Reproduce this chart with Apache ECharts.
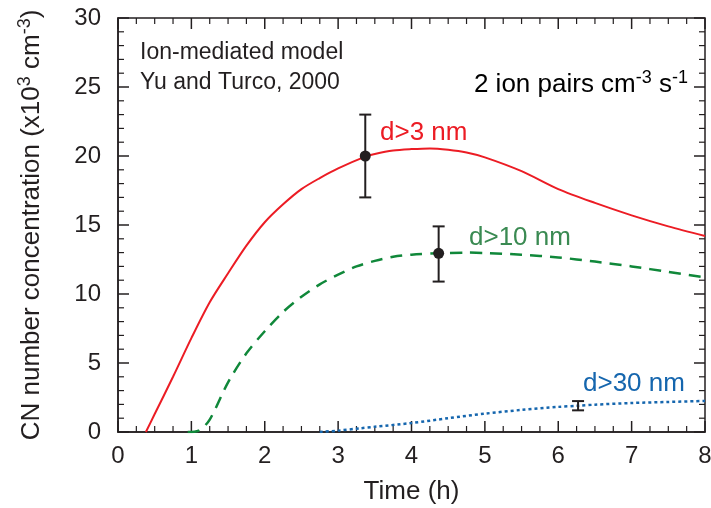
<!DOCTYPE html>
<html>
<head>
<meta charset="utf-8">
<script src="https://cdn.jsdelivr.net/npm/echarts@6/dist/echarts.min.js"></script>
<style>
    html, body { margin: 0; padding: 0; background: #fff; }
    #cn-chart { width: 711px; height: 508px; }
</style>
</head>
<body>
<div id="cn-chart"></div>
<script>
const FONT = '"Liberation Sans", Arial, Helvetica, sans-serif';
const INK = '#231f20';
const RED = '#ec1c24';
const GREEN = '#10883a';
const GREEN_TEXT = '#3a8a52';
const BLUE = '#1566ae';

// Model curves (time in h, concentration in 1e3 cm-3)
const d3Times = [0.38, 0.5, 0.75, 1, 1.25, 1.5, 1.75, 2, 2.25, 2.5, 2.75, 3, 3.37, 3.5, 3.75, 4, 4.25, 4.5, 4.75, 5, 5.5, 6, 6.5, 7, 7.5, 8];
const d3Values = [0, 1.3, 4.0, 6.8, 9.4, 11.5, 13.5, 15.2, 16.5, 17.6, 18.4, 19.1, 19.95, 20.15, 20.4, 20.5, 20.55, 20.45, 20.25, 19.9, 18.9, 17.6, 16.6, 15.7, 14.9, 14.2];

const d10Times = [0.95, 1.1, 1.25, 1.5, 1.75, 2, 2.25, 2.5, 2.75, 3, 3.25, 3.5, 3.75, 4, 4.37, 4.75, 5, 5.5, 6, 6.5, 7, 7.5, 8];
const d10Values = [0, 0.1, 0.9, 3.6, 5.7, 7.3, 8.7, 9.8, 10.7, 11.4, 12.0, 12.4, 12.7, 12.85, 12.95, 13.0, 12.97, 12.85, 12.65, 12.35, 12.0, 11.6, 11.2];

const d30Times = [2.75, 3, 3.3, 3.5, 4, 4.5, 5, 5.5, 6, 6.27, 6.5, 7, 7.5, 8];
const d30Values = [0, 0.1, 0.27, 0.38, 0.65, 1.0, 1.33, 1.6, 1.82, 1.9, 1.98, 2.1, 2.18, 2.25];

// Measurements with error bars: time, value, low, high
const obsTimes = [3.37, 4.37, 6.27];
const obsValues = [20.0, 12.95, 1.9];
const obsLow = [17.0, 10.9, 1.57];
const obsHigh = [23.0, 14.9, 2.24];
const obsDot = [true, true, false];

// min, max, major interval, minor subdivisions
const xTicks = [0, 8, 1, 4];
const yTicks = [0, 30, 5, 5];

function pairs(xs, ys) {
    return xs.map(function (x, i) { return [x, ys[i]]; });
}

// Tick positions for the frame: [dim, value, isMajor]
function tick_rows(dim, ticks) {
    let rows = [];
    let count = (ticks[1] - ticks[0]) / ticks[2] * ticks[3];
    for (let i = 0; i <= count; i++) {
        rows.push([dim, ticks[0] + i * ticks[2] / ticks[3], i % ticks[3] === 0 ? 1 : 0]);
    }
    return rows;
}

let cn_chart = echarts.init(document.getElementById('cn-chart'));

let name_rich = {
    t: {fontFamily: FONT, fontSize: 26, color: INK, lineHeight: 31},
    s: {fontFamily: FONT, fontSize: 18, color: INK, lineHeight: 23, verticalAlign: 'top'}
};

function note(text, x, y, color, size) {
    return {
        type: 'text',
        style: {
            text: text, x: x, y: y,
            font: size + 'px ' + FONT,
            fill: color,
            textVerticalAlign: 'middle'
        }
    };
}

let cn_options = {
    animation: false,
    backgroundColor: '#fff',
    grid: {
        left: 118, top: 18, right: 6, bottom: 76,
        show: true, borderColor: INK, borderWidth: 1.5,
        containLabel: false, outerBoundsMode: 'none'
    },
    xAxis: {
        type: 'value',
        min: xTicks[0],
        max: xTicks[1],
        interval: xTicks[2],
        axisLine: {show: true, onZero: false, lineStyle: {color: INK, width: 1.5}},
        axisTick: {show: false},
        splitLine: {show: false},
        axisLabel: {margin: 12, color: INK, fontFamily: FONT, fontSize: 24},
        name: 'Time (h)',
        nameLocation: 'middle',
        nameGap: 47,
        nameTextStyle: {color: INK, fontFamily: FONT, fontSize: 26}
    },
    yAxis: {
        type: 'value',
        min: yTicks[0],
        max: yTicks[1],
        interval: yTicks[2],
        axisLine: {show: true, onZero: false, lineStyle: {color: INK, width: 1.5}},
        axisTick: {show: false},
        splitLine: {show: false},
        axisLabel: {margin: 17, color: INK, fontFamily: FONT, fontSize: 24},
        name: '{t|CN number concentration (x10}{s|3}{t| cm}{s|-3}{t|)}',
        nameLocation: 'middle',
        nameGap: 71,
        nameTextStyle: {rich: name_rich}
    },
    graphic: [
        note('Ion-mediated model', 140, 53, INK, 23),
        note('Yu and Turco, 2000', 140, 83, INK, 23),
        {
            type: 'text',
            style: {
                text: '{t|2 ion pairs cm}{s|-3}{t| s}{s|-1}',
                rich: name_rich,
                x: 688, y: 85,
                textAlign: 'right',
                textVerticalAlign: 'middle'
            }
        },
        note('d>3 nm', 380, 133, RED, 26),
        note('d>10 nm', 469, 238, GREEN_TEXT, 26),
        note('d>30 nm', 583, 384, BLUE, 26)
    ],
    series: [
        {
            // inward ticks on all four sides of the frame
            name: 'frame ticks',
            type: 'custom',
            clip: false,
            silent: true,
            renderItem: function (params, api) {
                let dim = api.value(0);
                let v = api.value(1);
                let len = api.value(2) ? 11 : 6;
                let style = {stroke: INK, lineWidth: api.value(2) ? 1.5 : 1.2};
                let a, b;
                if (dim === 0) {
                    a = api.coord([v, yTicks[0]]);
                    b = api.coord([v, yTicks[1]]);
                    return {
                        type: 'group',
                        children: [
                            {type: 'line', shape: {x1: a[0], y1: a[1], x2: a[0], y2: a[1] - len}, style: style},
                            {type: 'line', shape: {x1: b[0], y1: b[1], x2: b[0], y2: b[1] + len}, style: style}
                        ]
                    };
                }
                a = api.coord([xTicks[0], v]);
                b = api.coord([xTicks[1], v]);
                return {
                    type: 'group',
                    children: [
                        {type: 'line', shape: {x1: a[0], y1: a[1], x2: a[0] + len, y2: a[1]}, style: style},
                        {type: 'line', shape: {x1: b[0], y1: b[1], x2: b[0] - len, y2: b[1]}, style: style}
                    ]
                };
            },
            data: tick_rows(0, xTicks).concat(tick_rows(1, yTicks)),
            z: 1
        },
        {
            name: 'd>3 nm',
            type: 'line',
            smooth: 0.3,
            showSymbol: false,
            lineStyle: {color: RED, width: 2},
            data: pairs(d3Times, d3Values),
            z: 3
        },
        {
            name: 'd>10 nm',
            type: 'line',
            smooth: 0.3,
            showSymbol: false,
            lineStyle: {color: GREEN, width: 2.5, type: [12, 8]},
            data: pairs(d10Times, d10Values),
            z: 3
        },
        {
            name: 'd>30 nm',
            type: 'line',
            smooth: 0.3,
            showSymbol: false,
            lineStyle: {color: BLUE, width: 2.5, type: [3, 3]},
            data: pairs(d30Times, d30Values),
            z: 3
        },
        {
            name: 'error bars',
            type: 'custom',
            renderItem: function (params, api) {
                let top = api.coord([api.value(0), api.value(3)]);
                let bottom = api.coord([api.value(0), api.value(2)]);
                let half = 6;
                let style = {stroke: INK, lineWidth: 2};
                return {
                    type: 'group',
                    children: [
                        {type: 'line', shape: {x1: top[0], y1: top[1], x2: bottom[0], y2: bottom[1]}, style: style},
                        {type: 'line', shape: {x1: top[0] - half, y1: top[1], x2: top[0] + half, y2: top[1]}, style: style},
                        {type: 'line', shape: {x1: bottom[0] - half, y1: bottom[1], x2: bottom[0] + half, y2: bottom[1]}, style: style}
                    ]
                };
            },
            data: obsTimes.map(function (t, i) { return [t, obsValues[i], obsLow[i], obsHigh[i]]; }),
            z: 4
        },
        {
            name: 'observations',
            type: 'scatter',
            symbol: 'circle',
            symbolSize: 11,
            itemStyle: {color: INK, opacity: 1},
            data: pairs(obsTimes, obsValues).filter(function (p, i) { return obsDot[i]; }),
            z: 5
        }
    ]
};

cn_chart.setOption(cn_options);

window.addEventListener('resize', function () {
    cn_chart.resize();
});
</script>
</body>
</html>
